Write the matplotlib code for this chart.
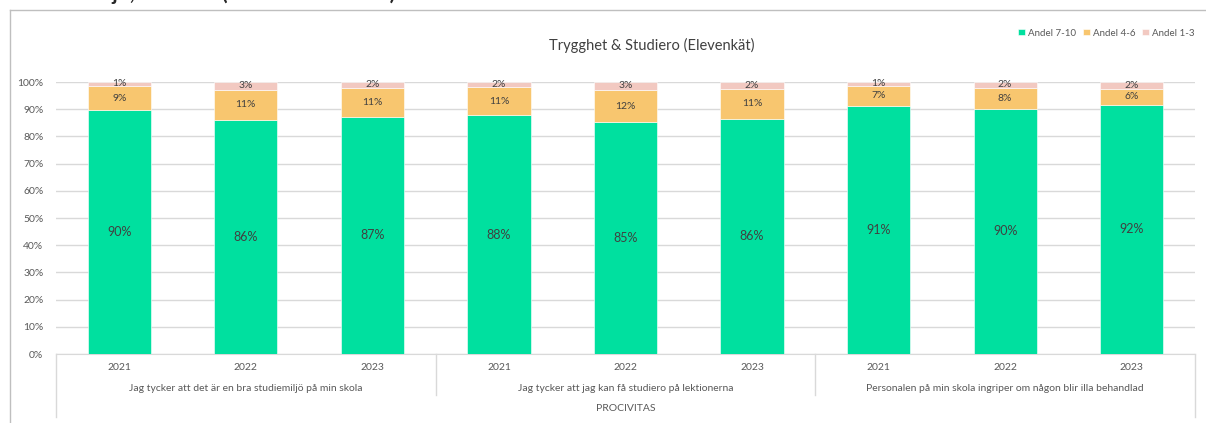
import numpy as np
import matplotlib
matplotlib.use("Agg")
import matplotlib.pyplot as plt

plt.rcParams['font.family'] = ['Lato', 'DejaVu Sans']

# data (andelar i procent)
years = ["2021", "2022", "2023"] * 3
groups = ["Jag tycker att det är en bra studiemiljö på min skola",
          "Jag tycker att jag kan få studiero på lektionerna",
          "Personalen på min skola ingriper om någon blir illa behandlad"]
school = "PROCIVITAS"
andel_7_10 = [89.6, 86.1, 87.2, 87.7, 85.2, 86.4, 91.2, 90.2, 91.6]
andel_4_6 = [9.0, 11.0, 10.6, 10.6, 11.9, 11.2, 7.4, 7.6, 6.0]
andel_1_3 = [1.4, 2.9, 2.2, 1.7, 2.9, 2.4, 1.4, 2.2, 2.4]
series_names = ["Andel 7-10", "Andel 4-6", "Andel 1-3"]
colors = ["#00E09F", "#F8C66F", "#F2C9C1"]

W, H = 1206, 423
fig = plt.figure(figsize=(W / 100, H / 100), dpi=100)

# ram runt diagrammet
fig.add_artist(plt.Line2D([10 / W, 10 / W], [0, 1 - 10 / H], color="#BFBFBF", lw=1))
fig.add_artist(plt.Line2D([10 / W, 1], [1 - 10 / H, 1 - 10 / H], color="#BFBFBF", lw=1))

# avklippt rubrik ovanför
fig.text(25 / W, 1 + 6 / H, "Studiemiljö, studiero (Procivitas Malmö)", fontsize=15,
         fontweight="bold", color="#262626", ha="left", va="center")

x0, x1, ytop, ybot = 56, 1195, 82, 354
ax = fig.add_axes([x0 / W, 1 - ybot / H, (x1 - x0) / W, (ybot - ytop) / H])

x = np.arange(len(years))
bottom = np.zeros(len(years))
for vals, name, c in zip([andel_7_10, andel_4_6, andel_1_3], series_names, colors):
    vals = np.array(vals) / 100
    ax.bar(x, vals, 0.5, bottom=bottom, color=c, label=name, zorder=3,
           edgecolor="white", linewidth=0.4)
    fs = 9 if name == "Andel 7-10" else 7.5
    for xi, b, v in zip(x, bottom, vals):
        ax.text(xi, b + v / 2, "%.0f%%" % (v * 100), ha="center", va="center",
                fontsize=fs, color="#404040", zorder=4)
    bottom += vals

ax.set_xlim(-0.5, len(years) - 0.5)
ax.set_ylim(0, 1)
ax.set_yticks(np.arange(0, 1.01, 0.1))
ax.set_yticklabels(["%d%%" % v for v in range(0, 101, 10)])
ax.tick_params(axis="y", length=0, labelsize=7.5, labelcolor="#595959", pad=9)
ax.set_xticks([])
ax.grid(axis="y", color="#D9D9D9", lw=1, zorder=0)
for s in ["top", "right", "left"]:
    ax.spines[s].set_visible(False)
ax.spines["bottom"].set_color("#D9D9D9")

# kategoriaxel i flera nivåer
tr = ax.get_xaxis_transform()
for xi, yr in zip(x, years):
    ax.text(xi, -0.048, yr, transform=tr, ha="center", va="center",
            fontsize=7.5, color="#595959")
for gi, g in enumerate(groups):
    ax.text(gi * 3 + 1, -0.125, g, transform=tr, ha="center", va="center",
            fontsize=7.5, color="#595959")
ax.text(4, -0.199, school, transform=tr, ha="center", va="center",
        fontsize=7.5, color="#595959")
for sep in [2.5, 5.5]:
    ax.plot([sep, sep], [0, -0.152], transform=tr, color="#D9D9D9", lw=1, clip_on=False)
for sep in [-0.5, 8.5]:
    ax.plot([sep, sep], [0, -0.23], transform=tr, color="#D9D9D9", lw=1, clip_on=False)

fig.text(652 / W, 1 - 45 / H, "Trygghet & Studiero (Elevenkät)", ha="center", va="center",
         fontsize=10.5, color="#404040")

fig.legend(loc="center right", bbox_to_anchor=(1203 / W, 1 - 33 / H), ncol=3,
           frameon=False, fontsize=7, handlelength=0.7, handleheight=0.7,
           handletextpad=0.3, columnspacing=0.7, labelcolor="#595959")

fig.savefig("out.png", dpi=100)
